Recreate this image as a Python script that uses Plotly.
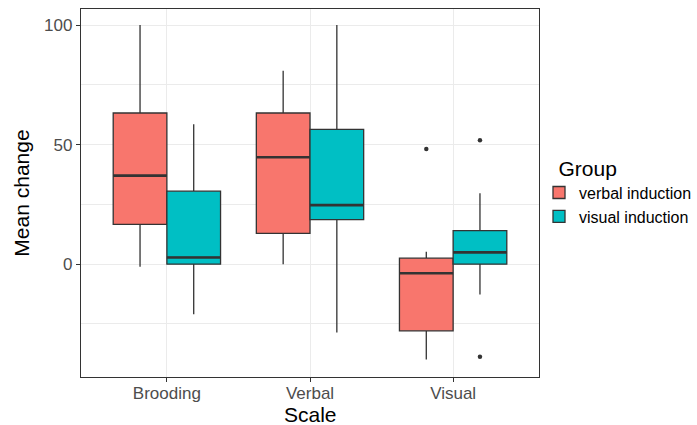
import plotly.graph_objects as go

categories = ["Brooding", "Verbal", "Visual"]
groups = ["verbal induction", "visual induction"]
colors = ["#F8766D", "#00BFC4"]

# per group: values for each category
lowerfence = [[-1.1, 0.0, -39.9], [-21.0, -28.6, -12.7]]
q1 = [[16.6, 12.9, -27.9], [0.0, 18.6, 0.0]]
median = [[37.0, 44.7, -3.8], [2.8, 24.7, 4.9]]
q3 = [[63.2, 63.2, 2.5], [30.5, 56.4, 14.0]]
upperfence = [[100.0, 80.9, 5.2], [58.5, 100.0, 29.6]]
# outliers: (category index, value)
outliers = [[(2, 48.2)], [(2, 51.8), (2, -38.7)]]

dodge = 0.75
bw = dodge / 2

fig = go.Figure()
for g, name in enumerate(groups):
    off = (g - 0.5) * bw
    xs = [i + 1 + off for i in range(len(categories))]
    fig.add_trace(go.Box(
        x=xs, q1=q1[g], median=median[g], q3=q3[g],
        lowerfence=lowerfence[g], upperfence=upperfence[g],
        width=bw, name=name, fillcolor=colors[g],
        line=dict(color="#333333", width=1.3), whiskerwidth=0,
        boxpoints=False, hoverinfo="skip",
    ))
    # thicker median lines
    mx, my = [], []
    for i, m in enumerate(median[g]):
        mx += [xs[i] - bw / 2, xs[i] + bw / 2, None]
        my += [m, m, None]
    fig.add_trace(go.Scatter(x=mx, y=my, mode="lines", showlegend=False,
                             line=dict(color="#333333", width=2.6), hoverinfo="skip"))
    if outliers[g]:
        fig.add_trace(go.Scatter(
            x=[c + 1 + off for c, v in outliers[g]], y=[v for c, v in outliers[g]],
            mode="markers", showlegend=False,
            marker=dict(color="#333333", size=4.5), hoverinfo="skip"))

font = "Liberation Sans, Arial, sans-serif"
fig.update_layout(
    width=697, height=425,
    margin=dict(l=81, r=158, t=9, b=48, autoexpand=False),
    paper_bgcolor="white", plot_bgcolor="white",
    boxmode="overlay",
    font=dict(family=font, color="black"),
    legend=dict(
        title=dict(text="\u00a0\u00a0\u00a0Group", font=dict(size=21, color="black")),
        font=dict(size=16, color="black"),
        x=1.0, xanchor="left", y=0.506, yanchor="middle",
        itemwidth=30, tracegroupgap=0,
        bgcolor="rgba(0,0,0,0)",
    ),
    showlegend=True,
    annotations=[
        dict(text="Scale", xref="paper", yref="paper", x=0.5, y=-38 / 368,
             xanchor="center", yanchor="middle", showarrow=False,
             font=dict(size=21, color="black")),
    ],
)
fig.update_xaxes(
    range=[0.4, 3.6], tickvals=[1, 2, 3], ticktext=categories,
    showgrid=True, gridcolor="#EBEBEB", gridwidth=1,
    ticks="outside", ticklen=4, tickcolor="#333333", tickwidth=1,
    tickfont=dict(size=17, color="#4D4D4D", family=font),
    ticklabelstandoff=-4,
    showline=True, linecolor="#333333", linewidth=1.3, mirror=True,
    zeroline=False, automargin=False,
)
fig.update_yaxes(
    range=[-47.2, 106.7], tick0=0, dtick=50,
    showgrid=True, gridcolor="#EBEBEB", gridwidth=1,
    minor=dict(dtick=25, tick0=0, showgrid=True, gridcolor="#EBEBEB", gridwidth=0.6, ticks=""),
    ticks="outside", ticklen=4, tickcolor="#333333", tickwidth=1,
    tickfont=dict(size=17, color="#4D4D4D", family=font),
    showline=True, linecolor="#333333", linewidth=1.3, mirror=True,
    zeroline=False, automargin=False,
    title=dict(text="Mean change", font=dict(size=21, color="black"), standoff=8),
)

fig.write_html("out.html")
